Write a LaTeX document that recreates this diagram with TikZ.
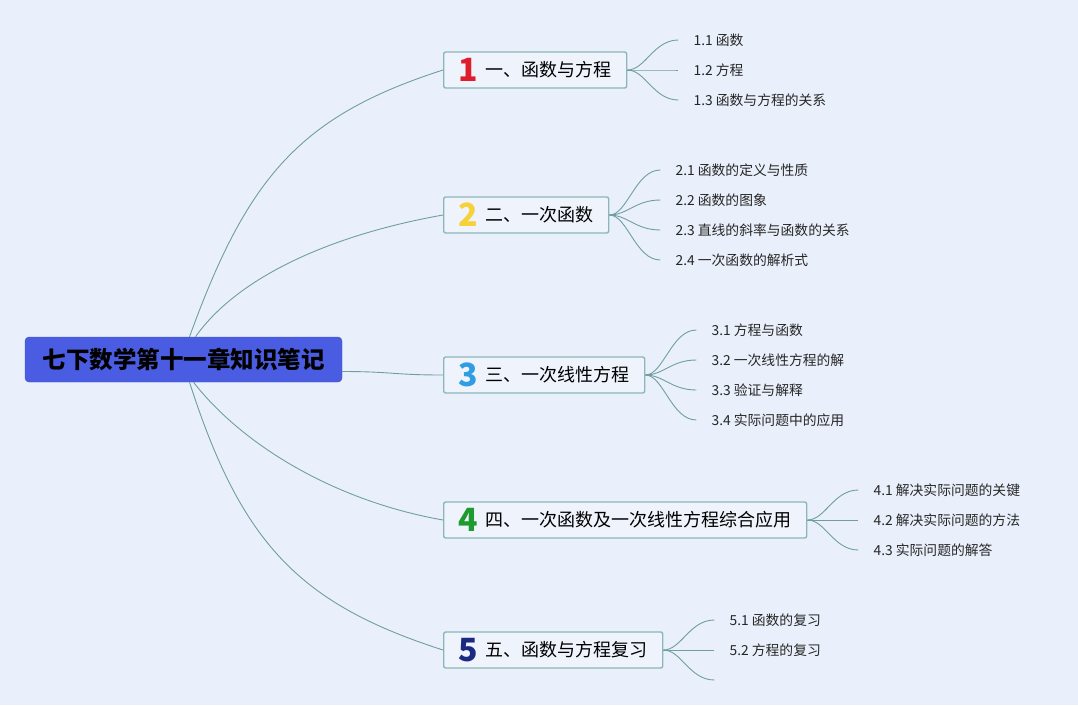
\documentclass[tikz,border=0pt]{standalone}
\usepackage{fontspec}
\setmainfont{Noto Sans CJK SC}
\usetikzlibrary{positioning}
\definecolor{bg}{HTML}{EAF0FB}
\definecolor{boxfill}{HTML}{EEF3FC}
\definecolor{boxline}{HTML}{8DB6B8}
\definecolor{linkc}{HTML}{6F9E9F}
\definecolor{rootblue}{HTML}{4A5DE2}
\definecolor{nred}{HTML}{DC1E2D}
\definecolor{nyellow}{HTML}{F6D13A}
\definecolor{nblue}{HTML}{2E9DE4}
\definecolor{ngreen}{HTML}{1E9A2E}
\definecolor{nnavy}{HTML}{1B2A80}
\newcommand{\numicon}[2]{\makebox[20pt]{\smash{\raisebox{-5pt}{\fontsize{32}{32}\selectfont\bfseries\color{#1}#2}}}\hspace{7pt}}
\tikzset{
    root/.style={
           rectangle, rounded corners=4pt,
           fill=rootblue, draw=rootblue!85!black,
           minimum width=317pt, minimum height=45pt,
           font=\fontsize{23.5}{26}\selectfont\bfseries,
           },
}
\tikzset{
    branch/.style={
           rectangle, rounded corners=2pt,
           fill=boxfill, draw=boxline, line width=1.4pt,
           minimum height=36pt, inner xsep=15pt, inner ysep=0pt,
           font=\fontsize{18}{20}\selectfont,
           anchor=west,
           },
}
\tikzset{
    leaf/.style={
           inner xsep=15pt, inner ysep=2pt,
           font=\fontsize{13.8}{15}\selectfont, text=black!85,
           anchor=west,
           },
    link/.style={draw=linkc, line width=0.9pt},
}

\begin{document}
\begin{tikzpicture}[x=1pt,y=-1pt]
\fill[bg] (0,0) rectangle (1078,705);
\useasboundingbox (0,0) rectangle (1078,705);
\node[root](r) at (183.5,359.5){七下数学第十一章知识笔记};
\node[branch](b1) at (443,70){\numicon{nred}{1}一、函数与方程};
\node[branch](b2) at (443,215){\numicon{nyellow}{2}二、一次函数};
\node[branch](b3) at (443,375){\numicon{nblue}{3}三、一次线性方程};
\node[branch](b4) at (443,520){\numicon{ngreen}{4}四、一次函数及一次线性方程综合应用};
\node[branch](b5) at (443,650){\numicon{nnavy}{5}五、函数与方程复习};
\draw[link] ([xshift=6pt]r.north) .. controls +(58,-160) and +(-143,46) .. (b1.west);
\draw[link] ([xshift=12pt]r.north) .. controls +(40,-57) and +(-118,21) .. (b2.west);
\draw[link] ([yshift=-12pt]r.east) .. controls +(50,0) and +(-50,0) .. (b3.west);
\draw[link] ([xshift=10pt]r.south) .. controls +(49,63) and +(-108,-19) .. (b4.west);
\draw[link] ([xshift=6pt]r.south) .. controls +(52,162) and +(-143,-46) .. (b5.west);
\node[leaf](l11) at ([shift={(51,-30)}]b1.east){1.1 函数};
\node[leaf](l12) at ([shift={(51,0)}]b1.east){1.2 方程};
\node[leaf](l13) at ([shift={(51,30)}]b1.east){1.3 函数与方程的关系};
\node[leaf](l21) at ([shift={(51,-45)}]b2.east){2.1 函数的定义与性质};
\node[leaf](l22) at ([shift={(51,-15)}]b2.east){2.2 函数的图象};
\node[leaf](l23) at ([shift={(51,15)}]b2.east){2.3 直线的斜率与函数的关系};
\node[leaf](l24) at ([shift={(51,45)}]b2.east){2.4 一次函数的解析式};
\node[leaf](l31) at ([shift={(51,-45)}]b3.east){3.1 方程与函数};
\node[leaf](l32) at ([shift={(51,-15)}]b3.east){3.2 一次线性方程的解};
\node[leaf](l33) at ([shift={(51,15)}]b3.east){3.3 验证与解释};
\node[leaf](l34) at ([shift={(51,45)}]b3.east){3.4 实际问题中的应用};
\node[leaf](l41) at ([shift={(51,-30)}]b4.east){4.1 解决实际问题的关键};
\node[leaf](l42) at ([shift={(51,0)}]b4.east){4.2 解决实际问题的方法};
\node[leaf](l43) at ([shift={(51,30)}]b4.east){4.3 实际问题的解答};
\node[leaf](l51) at ([shift={(51,-30)}]b5.east){5.1 函数的复习};
\node[leaf](l52) at ([shift={(51,0)}]b5.east){5.2 方程的复习};
\coordinate(l53) at ([shift={(51,30)}]b5.east);
\foreach \b/\l in {b1/l11,b1/l12,b1/l13,b2/l21,b2/l22,b2/l23,b2/l24,b3/l31,b3/l32,b3/l33,b3/l34,b4/l41,b4/l42,b4/l43,b5/l51,b5/l52}
    \draw[link] (\b.east) .. controls +(18,0) and +(-25,0) .. (\l.west);
\draw[link] (b5.east) .. controls +(18,0) and +(-25,0) .. (l53);
\end{tikzpicture}
\end{document}
